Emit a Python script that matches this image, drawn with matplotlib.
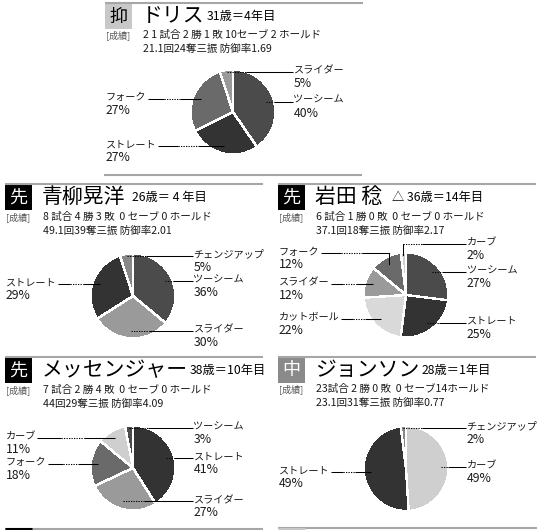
import matplotlib
matplotlib.use('Agg')
import matplotlib.pyplot as plt
from matplotlib.patches import Rectangle
import numpy as np

plt.rcParams['font.family'] = ['Noto Sans CJK JP', 'DejaVu Sans']

W, H = 537, 530

# ---------------- data ----------------
doris_pitches = ['ツーシーム', 'ストレート', 'フォーク', 'スライダー']
doris_share = [40, 27, 27, 5]
aoyagi_pitches = ['ツーシーム', 'スライダー', 'ストレート', 'チェンジアップ']
aoyagi_share = [36, 30, 29, 5]
iwata_pitches = ['ツーシーム', 'ストレート', 'カットボール', 'スライダー', 'フォーク', 'カーブ']
iwata_share = [27, 25, 22, 12, 12, 2]
messenger_pitches = ['ストレート', 'スライダー', 'フォーク', 'カーブ', 'ツーシーム']
messenger_share = [41, 27, 18, 11, 3]
johnson_pitches = ['カーブ', 'ストレート', 'チェンジアップ']
johnson_share = [49, 49, 2]

player_names = ['ドリス', '青柳晃洋', '岩田 稔', 'メッセンジャー', 'ジョンソン']
player_roles = ['抑', '先', '先', '先', '中']
player_ages = ['31歳＝4年目', '26歳＝ 4 年目', '△ 36歳＝14年目', '38歳＝10年目', '28歳＝1年目']
player_record = ['2 1 試合 2 勝 1 敗 10セーブ 2 ホールド',
                 '8 試合 4 勝 3 敗  0 セーブ 0 ホールド',
                 '6 試合 1 勝 0 敗  0 セーブ 0 ホールド',
                 '7 試合 2 勝 4 敗  0 セーブ 0 ホールド',
                 '23試合 2 勝 0 敗  0 セーブ14ホールド']
player_pitching = ['21.1回24奪三振 防御率1.69',
                   '49.1回39奪三振 防御率2.01',
                   '37.1回18奪三振 防御率2.17',
                   '44回29奪三振 防御率4.09',
                   '23.1回31奪三振 防御率0.77']

pitch_sets = [(doris_pitches, doris_share), (aoyagi_pitches, aoyagi_share),
              (iwata_pitches, iwata_share), (messenger_pitches, messenger_share),
              (johnson_pitches, johnson_share)]

# ---------------- style / layout ----------------
pitch_colors = {'ストレート': '#333333', 'ツーシーム': '#4b4b4b', 'フォーク': '#6a6a6a',
                'スライダー': '#9a9a9a', 'チェンジアップ': '#888888', 'カーブ': '#cfcfcf',
                'カットボール': '#d9d9d9'}
role_style = {'抑': ('#c8c8c8', 'black'), '先': ('black', 'white'), '中': ('#8a8a8a', 'white')}
LINE_GRAY = '#a6a6a6'

panels = [
    dict(bx=105, ty=3, pie_dy=109, rec_dy=32, age_dx=102, sides='RLLR', elbow={}),
    dict(bx=5, ty=184, pie_dy=112, rec_dy=33, age_dx=127, sides='RRLR', elbow={}),
    dict(bx=278, ty=184, pie_dy=111, rec_dy=33, age_dx=114, sides='RRLLLR', elbow={4: 42, 5: 51}),
    dict(bx=5, ty=357, pie_dy=111, rec_dy=33, age_dx=184, sides='RRLLR', elbow={}),
    dict(bx=278, ty=357, pie_dy=111.5, rec_dy=32, age_dx=144, sides='RLR', elbow={}),
]
R = 42.5

fig = plt.figure(figsize=(W / 100, H / 100), dpi=100)
ax = fig.add_axes([0, 0, 1, 1])
renderer = fig.canvas.get_renderer()


def fix_limits():
    ax.set_xlim(0, W)
    ax.set_ylim(0, H)


fix_limits()


def Y(py):
    return H - py


def hline(x0, x1, py, color, lw):
    ax.plot([x0, x1], [Y(py), Y(py)], color=color, lw=lw, solid_capstyle='butt')


def leader(xa, xb, y, dotted_range):
    f0, f1 = dotted_range
    L = xb - xa
    pts = [xa, xa + f0 * L, xa + f1 * L, xb]
    ax.plot([pts[0], pts[1]], [y, y], color='black', lw=0.75, solid_capstyle='butt')
    ax.plot([pts[1], pts[2]], [y, y], color='black', lw=0.75, ls=(0, (1.2, 1.2)))
    ax.plot([pts[2], pts[3]], [y, y], color='black', lw=0.75, solid_capstyle='butt')


def text_right(t):
    fix_limits()
    bb = t.get_window_extent(renderer=renderer)
    return ax.transData.inverted().transform((bb.x1, bb.y0))[0]


for i, p in enumerate(panels):
    bx, ty = p['bx'], p['ty']
    hline(bx, bx + 258, ty, LINE_GRAY, 1.5)
    fc, tc = role_style[player_roles[i]]
    ax.add_patch(Rectangle((bx, Y(ty + 26)), 27, 26, facecolor=fc, edgecolor='none'))
    ax.text(bx + 13.5, Y(ty + 13.5), player_roles[i], color=tc, fontsize=13,
            ha='center', va='center')
    nt = ax.text(bx + 37, Y(ty + 13), player_names[i], fontsize=15, ha='left', va='center',
                 color='black')
    age_x = max(bx + p['age_dx'], text_right(nt) + 2)
    ax.text(age_x, Y(ty + 13.5), player_ages[i], fontsize=8.8, ha='left',
            va='center', color='black')
    ax.text(bx + 1, Y(ty + p['rec_dy']), '[成績]', fontsize=6.5, ha='left', va='center',
            color='#555555')
    ax.text(bx + 38, Y(ty + p['rec_dy']), player_record[i], fontsize=7.6, ha='left',
            va='center', color='#1a1a1a')
    ax.text(bx + 38, Y(ty + p['rec_dy'] + 13.5), player_pitching[i], fontsize=7.6,
            ha='left', va='center', color='#1a1a1a')

    names, vals = pitch_sets[i]
    cx, cy = bx + 128, Y(ty + p['pie_dy'])
    wedges, _ = ax.pie(vals, colors=[pitch_colors[n] for n in names], startangle=90,
                       counterclock=False, center=(cx, cy), radius=R, frame=True,
                       wedgeprops=dict(edgecolor='white', linewidth=1.0, antialiased=False))
    fix_limits()
    total = float(sum(vals))
    for j, (w, name) in enumerate(zip(wedges, names)):
        mid = np.deg2rad((w.theta1 + w.theta2) / 2)
        rf = 0.95 if vals[j] / total <= 0.055 else 0.82
        ex = cx + rf * R * np.cos(mid)
        ey = cy + rf * R * np.sin(mid)
        ly = ey
        if j in p['elbow']:
            ly = cy + p['elbow'][j]
            ax.plot([ex, ex], [ey, ly], color='black', lw=0.75)
        side = p['sides'][j]
        lx = cx + R + 18 if side == 'R' else bx + 1
        t = ax.text(lx, ly + 1.5, name, fontsize=7.3, ha='left', va='center', color='#1a1a1a')
        ax.text(lx, ly + 1.5 - 13, f'{vals[j]}%', fontsize=8.8, ha='left', va='center',
                color='#1a1a1a')
        if side == 'R':
            leader(ex, lx - 1, ly, (0.0, 0.3))
        else:
            leader(text_right(t) + 1, ex, ly, (0.3, 0.6))

hline(104, 362, 175, LINE_GRAY, 1.5)
hline(5, 263, 528.5, LINE_GRAY, 1.5)
hline(5, 32, 528.5, 'black', 2.2)
hline(278, 537, 528, LINE_GRAY, 1.5)
hline(278, 305, 528.5, '#c8c8c8', 2.2)

fix_limits()
ax.set_aspect('auto')
ax.set_axis_off()
fig.savefig('out.png', dpi=100, facecolor='white')
